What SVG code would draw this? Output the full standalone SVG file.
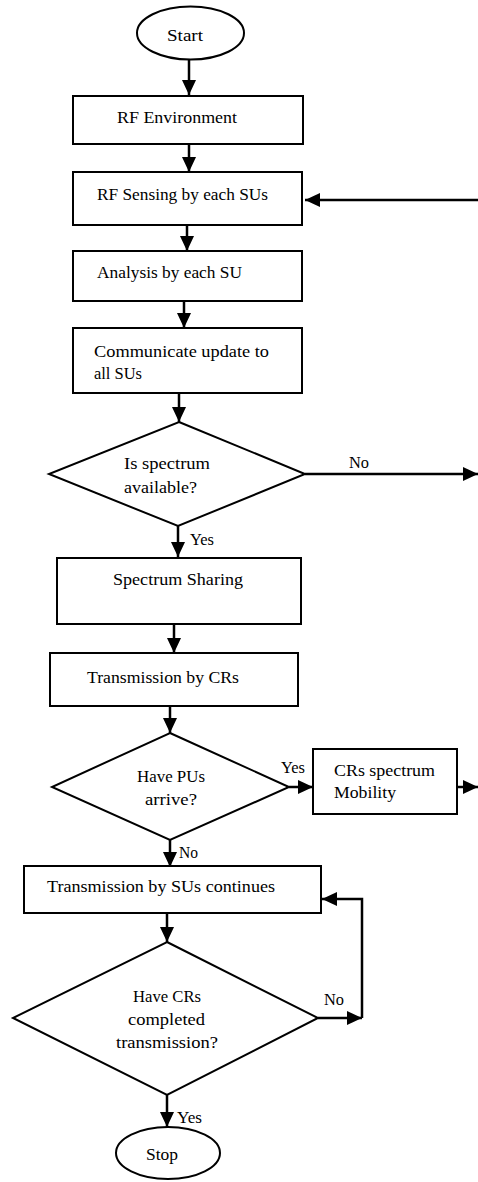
<svg xmlns="http://www.w3.org/2000/svg" width="478" height="1182" viewBox="0 0 478 1182">
<style>
.shape{fill:#fff;stroke:#000;stroke-width:2}
.conn{fill:none;stroke:#000;stroke-width:2.5}
text{font-family:"Liberation Serif","DejaVu Serif",serif;font-size:17px;fill:#000}
.c{text-anchor:middle}
</style>
<defs>
<marker id="arr" markerUnits="userSpaceOnUse" markerWidth="15" markerHeight="14" refX="15" refY="7" orient="auto">
<path d="M0,0 L15,7 L0,14 z" fill="#000"/>
</marker>
</defs>
<rect width="478" height="1182" fill="#fff"/>
<g id="connectors">
<line class="conn" x1="189" y1="59" x2="189" y2="95" marker-end="url(#arr)"/>
<line class="conn" x1="189" y1="144" x2="189" y2="172" marker-end="url(#arr)"/>
<line class="conn" x1="187" y1="225" x2="187" y2="251" marker-end="url(#arr)"/>
<line class="conn" x1="184" y1="301" x2="184" y2="328" marker-end="url(#arr)"/>
<line class="conn" x1="179" y1="393" x2="179" y2="422" marker-end="url(#arr)"/>
<line class="conn" x1="305" y1="474" x2="478" y2="474" marker-end="url(#arr)"/>
<line class="conn" x1="478" y1="200" x2="305" y2="200" marker-end="url(#arr)"/>
<line class="conn" x1="178" y1="526" x2="178" y2="557" marker-end="url(#arr)"/>
<line class="conn" x1="174" y1="624" x2="174" y2="653" marker-end="url(#arr)"/>
<line class="conn" x1="170" y1="706" x2="170" y2="733" marker-end="url(#arr)"/>
<line class="conn" x1="289" y1="787" x2="313" y2="787" marker-end="url(#arr)"/>
<line class="conn" x1="457" y1="787" x2="478" y2="787" marker-end="url(#arr)"/>
<line class="conn" x1="170" y1="840" x2="170" y2="867" marker-end="url(#arr)"/>
<line class="conn" x1="167" y1="913" x2="167" y2="942" marker-end="url(#arr)"/>
<line class="conn" x1="318" y1="1018" x2="362" y2="1018" marker-end="url(#arr)"/>
<polyline class="conn" points="362,1018 362,899 322,899" marker-end="url(#arr)"/>
<line class="conn" x1="167" y1="1095" x2="167" y2="1127" marker-end="url(#arr)"/>
<text x="349" y="468" textLength="20" lengthAdjust="spacingAndGlyphs">No</text>
<text x="190" y="545" textLength="24" lengthAdjust="spacingAndGlyphs">Yes</text>
<text x="281" y="773" textLength="24" lengthAdjust="spacingAndGlyphs">Yes</text>
<text x="179" y="858" textLength="19" lengthAdjust="spacingAndGlyphs">No</text>
<text x="324" y="1005" textLength="20" lengthAdjust="spacingAndGlyphs">No</text>
<text x="177" y="1123" textLength="25" lengthAdjust="spacingAndGlyphs">Yes</text>
</g>
<g id="start">
<ellipse class="shape" cx="190.5" cy="33" rx="53.5" ry="26.5"/>
<text class="c" x="185" y="41" textLength="36" lengthAdjust="spacingAndGlyphs">Start</text>
</g>
<g id="rf-environment">
<rect class="shape" x="73" y="96" width="230" height="48"/>
<text class="c" x="177" y="123" textLength="120" lengthAdjust="spacingAndGlyphs">RF Environment</text>
</g>
<g id="rf-sensing">
<rect class="shape" x="73" y="172" width="229" height="53"/>
<text class="c" x="182.5" y="200" textLength="171" lengthAdjust="spacingAndGlyphs">RF Sensing by each SUs</text>
</g>
<g id="analysis">
<rect class="shape" x="73" y="251" width="229" height="50"/>
<text class="c" x="169.5" y="278" textLength="145" lengthAdjust="spacingAndGlyphs">Analysis by each SU</text>
</g>
<g id="communicate">
<rect class="shape" x="73" y="328" width="229" height="65"/>
<text x="94" y="357" textLength="175" lengthAdjust="spacingAndGlyphs">Communicate update to</text>
<text x="94" y="379" textLength="48" lengthAdjust="spacingAndGlyphs">all SUs</text>
</g>
<g id="spectrum-available">
<polygon class="shape" points="179,422 305,474 178,526 49,474"/>
<text x="124" y="469" textLength="86" lengthAdjust="spacingAndGlyphs">Is spectrum</text>
<text x="124" y="493" textLength="73" lengthAdjust="spacingAndGlyphs">available?</text>
</g>
<g id="spectrum-sharing">
<rect class="shape" x="57" y="558" width="244" height="66"/>
<text class="c" x="178" y="585" textLength="130" lengthAdjust="spacingAndGlyphs">Spectrum Sharing</text>
</g>
<g id="transmission-crs">
<rect class="shape" x="50" y="653" width="248" height="53"/>
<text class="c" x="163" y="683" textLength="152" lengthAdjust="spacingAndGlyphs">Transmission by CRs</text>
</g>
<g id="pus-arrive">
<polygon class="shape" points="170,733 289,787 170,840 52,787"/>
<text class="c" x="171" y="782" textLength="68" lengthAdjust="spacingAndGlyphs">Have PUs</text>
<text class="c" x="171" y="805" textLength="52" lengthAdjust="spacingAndGlyphs">arrive?</text>
</g>
<g id="crs-mobility">
<rect class="shape" x="313" y="749" width="144" height="65"/>
<text x="334" y="776" textLength="101" lengthAdjust="spacingAndGlyphs">CRs spectrum</text>
<text x="334" y="798" textLength="62" lengthAdjust="spacingAndGlyphs">Mobility</text>
</g>
<g id="transmission-sus">
<rect class="shape" x="24" y="866" width="297" height="47"/>
<text class="c" x="161" y="892" textLength="228" lengthAdjust="spacingAndGlyphs">Transmission by SUs continues</text>
</g>
<g id="crs-completed">
<polygon class="shape" points="167,942 318,1018 167,1095 13,1018"/>
<text class="c" x="167" y="1002" textLength="68" lengthAdjust="spacingAndGlyphs">Have CRs</text>
<text class="c" x="166.5" y="1025" textLength="77" lengthAdjust="spacingAndGlyphs">completed</text>
<text class="c" x="167" y="1048" textLength="102" lengthAdjust="spacingAndGlyphs">transmission?</text>
</g>
<g id="stop">
<ellipse class="shape" cx="168" cy="1153" rx="52" ry="26"/>
<text class="c" x="162" y="1160" textLength="32" lengthAdjust="spacingAndGlyphs">Stop</text>
</g>
</svg>
